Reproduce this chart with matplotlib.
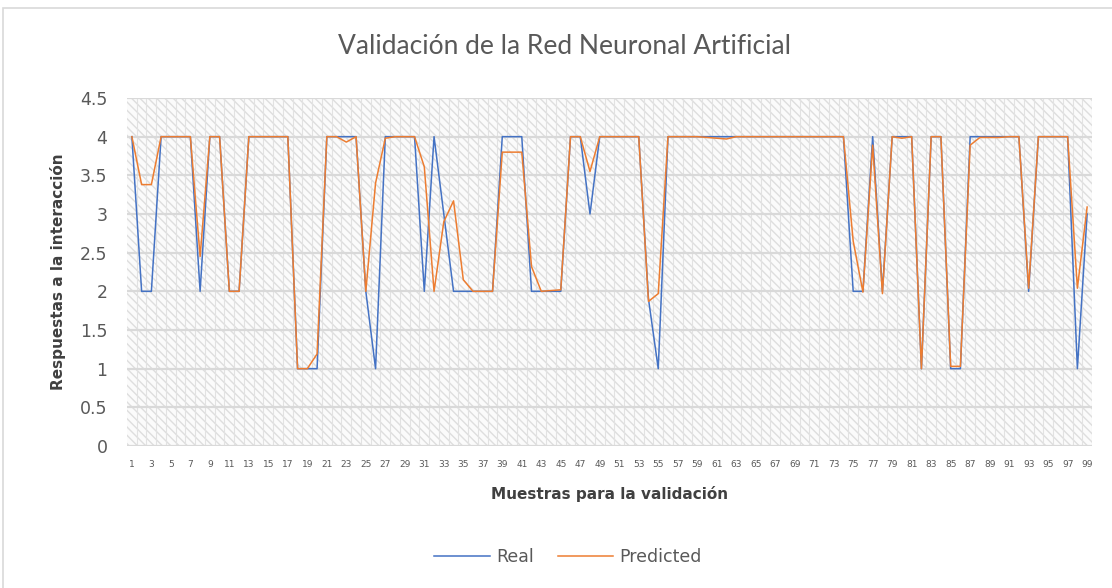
import matplotlib
matplotlib.use('Agg')
import matplotlib.pyplot as plt
import matplotlib.patches as patches

# --- CONFIGURATION ---
W_PX, H_PX = 1112, 588
DPI = 100
BLUE = '#4472C4'
ORANGE = '#ED7D31'
TEXT_GRAY = '#595959'
GRID_GRAY = '#d9d9d9'

# --- DATA ---
samples = list(range(1, 100))

real = [4, 2, 2, 4, 4, 4, 4, 2, 4, 4,
        2, 2, 4, 4, 4, 4, 4, 1, 1, 1,
        4, 4, 4, 4, 2, 1, 4, 4, 4, 4,
        2, 4, 3, 2, 2, 2, 2, 2, 4, 4,
        4, 2, 2, 2, 2, 4, 4, 3, 4, 4,
        4, 4, 4, 1.9, 1, 4, 4, 4, 4, 4,
        4, 4, 4, 4, 4, 4, 4, 4, 4, 4,
        4, 4, 4, 4, 2, 2, 4, 2, 4, 4,
        4, 1, 4, 4, 1, 1, 4, 4, 4, 4,
        4, 4, 2, 4, 4, 4, 4, 1, 3]

predicted = [4, 3.38, 3.38, 4, 4, 4, 4, 2.45, 4, 4,
             2, 2, 4, 4, 4, 4, 4, 1, 1, 1.19,
             4, 4, 3.93, 4, 2, 3.40, 3.98, 4, 4, 4,
             3.61, 2, 2.90, 3.17, 2.15, 2, 2, 2, 3.80, 3.80,
             3.80, 2.32, 2, 2.01, 2.02, 4, 4, 3.55, 4, 4,
             4, 4, 4, 1.87, 1.97, 4, 4, 4, 4, 3.99,
             3.98, 3.97, 4, 4, 4, 4, 4, 4, 4, 4,
             4, 4, 4, 4, 2.65, 1.99, 3.89, 1.97, 4, 3.98,
             4, 1, 4, 4, 1.03, 1.03, 3.89, 3.99, 3.99, 3.99,
             4, 4, 2.04, 4, 4, 4, 4, 2.04, 3.09]

y_ticks = [0, 0.5, 1, 1.5, 2, 2.5, 3, 3.5, 4, 4.5]
x_ticks = samples[::2]

plt.rcParams['hatch.linewidth'] = 1.0
plt.rcParams['hatch.color'] = '#dedede'

fig = plt.figure(figsize=(W_PX / DPI, H_PX / DPI), dpi=DPI)
fig.patch.set_facecolor('white')

# chart area border
fig.patches.append(patches.Rectangle((3 / W_PX, -0.02), 1.1, 1 - 8 / H_PX + 0.02,
                                     transform=fig.transFigure, fill=False,
                                     edgecolor=GRID_GRAY, linewidth=1.2))

ax = fig.add_axes([127 / W_PX, 1 - 446 / H_PX, (1092 - 127) / W_PX, (446 - 98) / H_PX])
ax.set_xlim(0.5, 99.5)
ax.set_ylim(0, 4.5)

# patterned plot area
ax.add_patch(patches.Rectangle((0.5, 0), 99, 4.5, facecolor='#fbfbfb', hatch='\\\\\\\\',
                               edgecolor='#dedede', linewidth=0, zorder=0))

# gridlines
for xv in samples:
    ax.axvline(xv + 0.5, color='#e2e2e2', linewidth=0.8, zorder=1)
for yv in y_ticks:
    ax.axhline(yv, color=GRID_GRAY, linewidth=1.6, zorder=1)

ax.plot(samples, real, color=BLUE, linewidth=1.1, label='Real', zorder=3)
ax.plot(samples, predicted, color=ORANGE, linewidth=1.1, label='Predicted', zorder=4)

for s in ax.spines.values():
    s.set_visible(False)

ax.set_yticks(y_ticks)
ax.set_yticklabels([f'{v:g}' for v in y_ticks])
ax.set_xticks(x_ticks)
ax.set_xticklabels([str(v) for v in x_ticks])
ax.tick_params(axis='y', length=0, labelsize=12.5, labelcolor=TEXT_GRAY, pad=14)
ax.tick_params(axis='x', length=0, labelsize=6.5, labelcolor=TEXT_GRAY, pad=10)

ax.set_xlabel('Muestras para la validación', fontsize=11, fontweight='bold',
              color='#404040', labelpad=12)
ax.set_ylabel('Respuestas a la interacción', fontsize=11, fontweight='bold',
              color='#404040', labelpad=10)

fig.text(565 / W_PX, 1 - 47 / H_PX, 'Validación de la Red Neuronal Artificial',
         ha='center', va='center', fontsize=19, color=TEXT_GRAY, family='Lato')

leg = fig.legend(loc='center', bbox_to_anchor=(568 / W_PX, 1 - 557 / H_PX), ncol=2,
                 frameon=False, fontsize=12.5, handlelength=3.2, handletextpad=0.35,
                 columnspacing=1.4)
for t in leg.get_texts():
    t.set_color(TEXT_GRAY)

fig.savefig('out.png', dpi=DPI)
